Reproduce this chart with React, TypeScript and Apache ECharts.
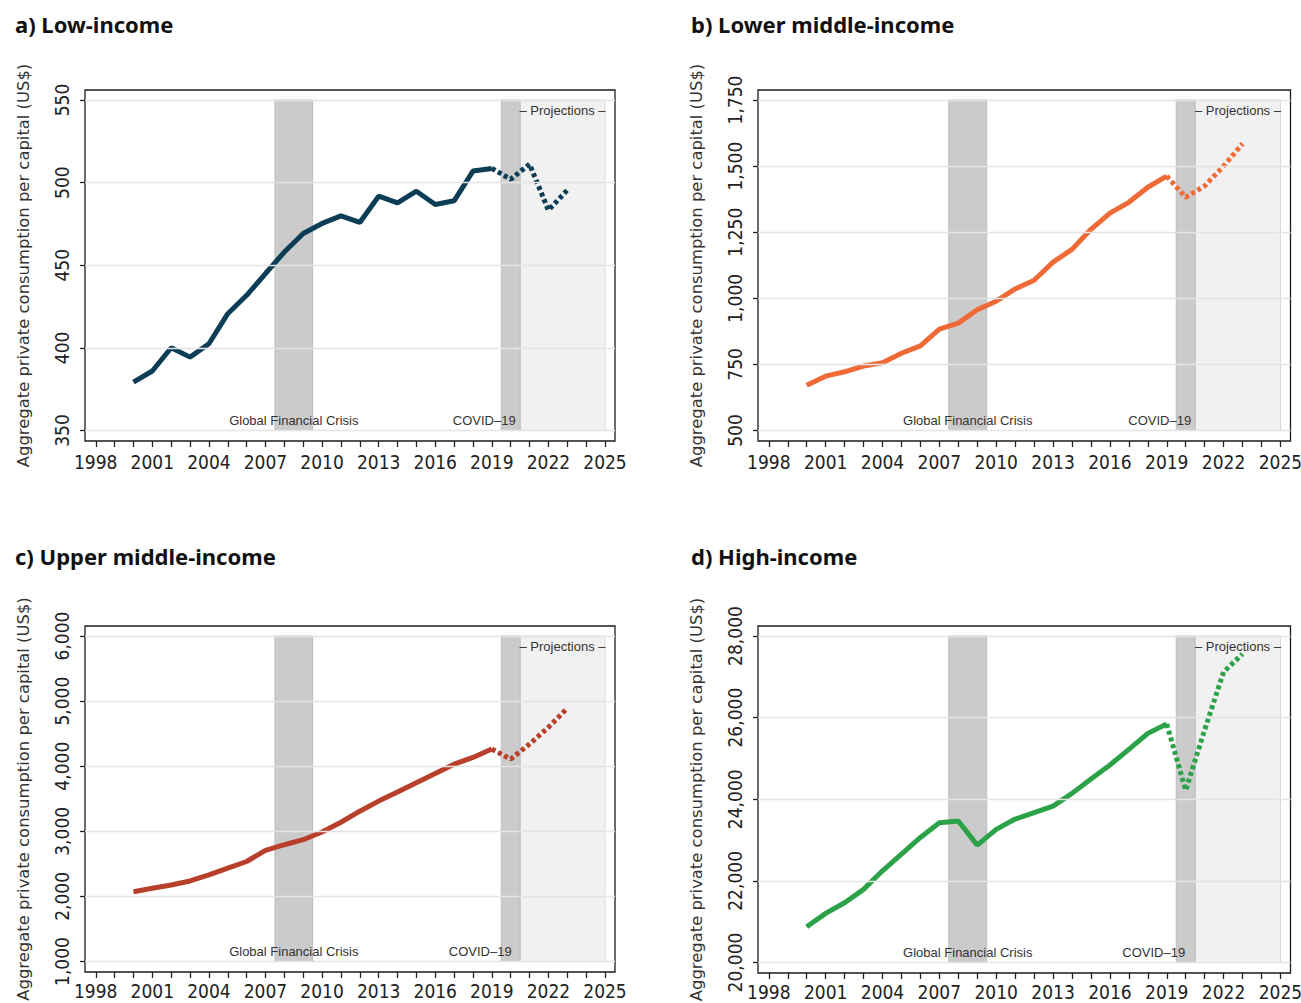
import React, { useEffect, useRef } from "react";
import * as echarts from "echarts";

// ---- Data ----
const years = [2000, 2001, 2002, 2003, 2004, 2005, 2006, 2007, 2008, 2009, 2010, 2011, 2012, 2013, 2014, 2015, 2016, 2017, 2018, 2019];
const projYears = [2019, 2020, 2021, 2022, 2023];

const lowIncome = [379.3, 386, 400.1, 394.4, 402.5, 420.7, 431.8, 445, 458, 469.2, 475.3, 479.9, 475.9, 491.8, 487.8, 494.8, 486.8, 489, 507, 508.6];
const lowIncomeProj = [508.6, 502, 511.2, 483.3, 495.5];

const lowerMiddle = [671, 705.6, 722, 744, 756.3, 792, 820, 883, 906, 957, 989, 1035.5, 1068.5, 1137, 1185, 1261, 1322, 1363, 1420, 1462];
const lowerMiddleProj = [1462, 1382, 1425, 1500, 1585];

const upperMiddle = [2072, 2124, 2175, 2237, 2330, 2433, 2536, 2706, 2794, 2871, 2990, 3139, 3309, 3464, 3603, 3747, 3887, 4031, 4134, 4263];
const upperMiddleProj = [4263, 4108, 4340, 4598, 4890];

const highIncome = [20876, 21203, 21464, 21791, 22248, 22657, 23065, 23425, 23466, 22877, 23261, 23515, 23670, 23833, 24144, 24495, 24838, 25222, 25614, 25843];
const highIncomeProj = [25843, 24220, 25700, 27120, 27560];

const xTickYears = [1998, 1999, 2000, 2001, 2002, 2003, 2004, 2005, 2006, 2007, 2008, 2009, 2010, 2011, 2012, 2013, 2014, 2015, 2016, 2017, 2018, 2019, 2020, 2021, 2022, 2023, 2024, 2025];
const xLabelYears = [1998, 2001, 2004, 2007, 2010, 2013, 2016, 2019, 2022, 2025];

const yTicksLow = [350, 400, 450, 500, 550];
const yTicksLowerMiddle = [500, 750, 1000, 1250, 1500, 1750];
const yTicksUpperMiddle = [1000, 2000, 3000, 4000, 5000, 6000];
const yTicksHigh = [20000, 22000, 24000, 26000, 28000];

const gfcBand = [2007.5, 2009.5];
const covidBand = [2019.5, 2020.5];
const projectionBand = [2020.5, 2025];

const panelTitles = ["a) Low-income", "b) Lower middle-income", "c) Upper middle-income", "d) High-income"];
const yAxisTitle = "Aggregate private consumption per capital (US$)";
const gfcLabel = "Global Financial Crisis";
const covidLabel = "COVID\u201319";
const projLabel = "\u2013 Projections \u2013";

// ---- Layout / styles ----
const TICK_FONT = "'Liberation Sans Narrow', 'DejaVu Sans Condensed', sans-serif";
const NOTE_FONT = "'Liberation Sans', Arial, sans-serif";

const panels = [
  { title: panelTitles[0], values: lowIncome, proj: lowIncomeProj, ticks: yTicksLow, color: "#0c3d56",
    grid: { left: 85, top: 90, width: 530, height: 351 }, titleLeft: 15, titleTop: 13, covidOffset: -1, xLabelMargin: 14 },
  { title: panelTitles[1], values: lowerMiddle, proj: lowerMiddleProj, ticks: yTicksLowerMiddle, color: "#ef6a37",
    grid: { left: 758, top: 90, width: 532.5, height: 351 }, titleLeft: 691, titleTop: 13, covidOffset: -0.5, xLabelMargin: 14 },
  { title: panelTitles[2], values: upperMiddle, proj: upperMiddleProj, ticks: yTicksUpperMiddle, color: "#b8402a",
    grid: { left: 85, top: 626, width: 530, height: 346 }, titleLeft: 15, titleTop: 545, covidOffset: -5, xLabelMargin: 11.5 },
  { title: panelTitles[3], values: highIncome, proj: highIncomeProj, ticks: yTicksHigh, color: "#2ba248",
    grid: { left: 758, top: 626, width: 532.5, height: 347 }, titleLeft: 691, titleTop: 545, covidOffset: -6.5, xLabelMargin: 11.5 },
];

const PAD_TOP = 10;
const PAD_BOTTOM = 10.5;

function buildOption() {
  const fmt = (v: number) => Number(v).toLocaleString("en-US");
  const option: any = {
    animation: false,
    backgroundColor: "#ffffff",
    title: panels.map((p) => ({
      text: p.title,
      left: p.titleLeft,
      top: p.titleTop,
      padding: 0,
      textStyle: { fontFamily: "'Noto Sans', sans-serif", fontWeight: "bold", fontSize: 22, color: "#111" },
    })),
    grid: panels.map((p) => ({
      ...p.grid,
      show: true,
      borderColor: "#1c1c1c",
      borderWidth: 1.3,
      backgroundColor: "transparent",
      containLabel: false,
      outerBoundsMode: "none",
    })),
    xAxis: panels.map((p, i) => ({
      type: "value",
      gridIndex: i,
      min: 1997.43,
      max: 2025.53,
      axisLine: { show: false },
      splitLine: { show: false },
      axisTick: { show: true, customValues: xTickYears, length: 6, lineStyle: { color: "#222", width: 1.3 } },
      axisLabel: {
        customValues: xLabelYears,
        fontFamily: TICK_FONT,
        fontSize: 19,
        lineHeight: 14,
        color: "#222",
        margin: p.xLabelMargin,
        formatter: (v: number) => String(v),
      },
    })),
    yAxis: panels.map((p, i) => {
      const lo = p.ticks[0];
      const hi = p.ticks[p.ticks.length - 1];
      const inner = p.grid.height - PAD_TOP - PAD_BOTTOM;
      const u = (hi - lo) / inner;
      return {
        type: "value",
        gridIndex: i,
        min: lo - PAD_BOTTOM * u,
        max: hi + PAD_TOP * u,
        axisLine: { show: false },
        splitLine: { show: false },
        axisTick: { show: true, customValues: p.ticks, length: 5, lineStyle: { color: "#222", width: 1.3 } },
        axisLabel: {
          customValues: p.ticks,
          rotate: 90,
          fontFamily: TICK_FONT,
          fontSize: 19,
          color: "#222",
          margin: 14,
          formatter: fmt,
        },
        name: yAxisTitle,
        nameLocation: "middle",
        nameRotate: 90,
        nameGap: 54,
        nameTextStyle: { fontFamily: "'DejaVu Sans', sans-serif", fontSize: 16.4, color: "#333" },
      };
    }),
    series: [] as any[],
  };

  panels.forEach((p, i) => {
    const lo = p.ticks[0];
    const hi = p.ticks[p.ticks.length - 1];
    option.series.push({
      type: "line",
      xAxisIndex: i,
      yAxisIndex: i,
      data: [],
      z: 1,
      silent: true,
      markLine: {
        silent: true,
        symbol: ["none", "none"],
        label: { show: false },
        lineStyle: { color: "#e4e4e4", width: 1.3, type: "solid" },
        data: p.ticks.map((v) => ({ yAxis: v })),
      },
    });
    const noteStyle = { fontFamily: NOTE_FONT, fontSize: 13, color: "#333" };
    option.series.push({
      type: "line",
      xAxisIndex: i,
      yAxisIndex: i,
      data: [],
      z: 2,
      silent: true,
      markArea: {
        silent: true,
        data: [
          [
            {
              xAxis: projectionBand[0], yAxis: lo,
              itemStyle: { color: "#f1f1f1", borderColor: "#d8d8d8", borderWidth: 1 },
              label: { show: true, position: "insideTopRight", distance: 4, offset: [4, 0], formatter: projLabel, ...noteStyle },
            },
            { xAxis: projectionBand[1], yAxis: hi },
          ],
          [
            {
              xAxis: gfcBand[0], yAxis: lo,
              itemStyle: { color: "#cbcbcb", borderColor: "#bdbdbd", borderWidth: 1 },
              label: { show: true, position: "insideBottom", distance: 4.5, formatter: gfcLabel, ...noteStyle },
            },
            { xAxis: gfcBand[1], yAxis: hi },
          ],
          [
            {
              xAxis: covidBand[0], yAxis: lo,
              itemStyle: { color: "#cbcbcb", borderColor: "#bdbdbd", borderWidth: 1 },
              label: { show: true, position: "insideBottomRight", distance: 4, offset: [p.covidOffset, 0], formatter: covidLabel, ...noteStyle },
            },
            { xAxis: covidBand[1], yAxis: hi },
          ],
        ],
      },
    });
    option.series.push({
      type: "line",
      xAxisIndex: i,
      yAxisIndex: i,
      z: 3,
      showSymbol: false,
      silent: true,
      data: years.map((y, k) => [y, p.values[k]]),
      lineStyle: { color: p.color, width: 5 },
    });
    option.series.push({
      type: "line",
      xAxisIndex: i,
      yAxisIndex: i,
      z: 3,
      showSymbol: false,
      silent: true,
      data: projYears.map((y, k) => [y, p.proj[k]]),
      lineStyle: { color: p.color, width: 5, type: [4, 3] },
    });
  });
  return option;
}

export default function App() {
  const ref = useRef<HTMLDivElement>(null);
  useEffect(() => {
    document.body.style.margin = "0";
    if (!ref.current) return;
    const chart = echarts.init(ref.current, undefined, { renderer: "svg" });
    chart.setOption(buildOption());
    return () => chart.dispose();
  }, []);
  return <div ref={ref} style={{ width: 1301, height: 1003, background: "#fff" }} />;
}
